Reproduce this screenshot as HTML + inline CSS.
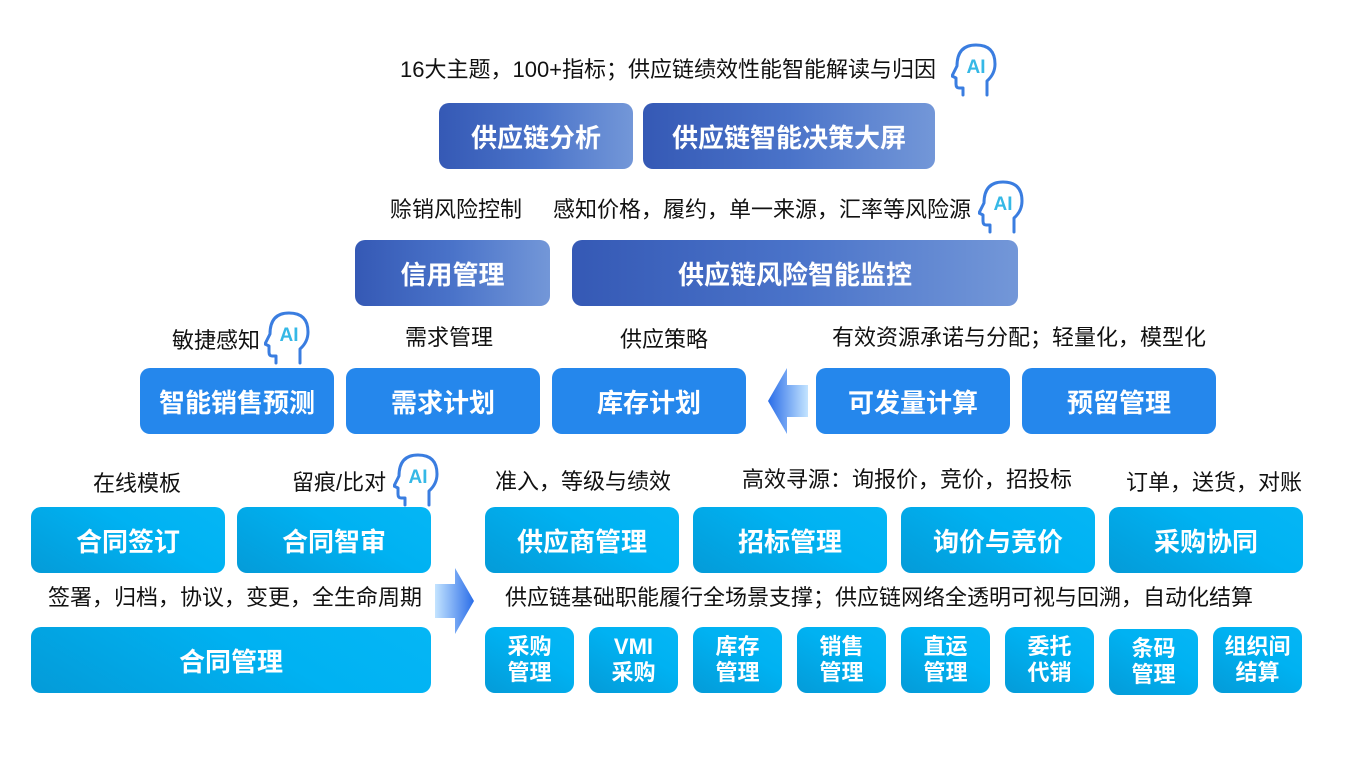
<!DOCTYPE html>
<html><head><meta charset="utf-8"><style>
body{margin:0;background:#fff;width:1367px;height:761px;position:relative;overflow:hidden;font-family:"Liberation Sans","Noto Sans CJK SC",sans-serif;}
.t{position:absolute;font-size:22px;color:#111;white-space:nowrap;line-height:26px;}
.b{position:absolute;display:flex;align-items:center;justify-content:center;color:#fff;font-weight:bold;font-size:26px;border-radius:10px;text-align:center;}
.p{background:linear-gradient(90deg,#3559b5 0%,#4a73c9 50%,#7397d8 100%);}
.m{background:#2587ec;}
.c{background:linear-gradient(30deg,#049bd8 0%,#00b2f2 60%,#05b6f5 100%);}
.s{font-size:22px;line-height:26px;width:89px;}
svg.ai{position:absolute;width:46px;height:54px;}
</style></head><body>
<svg width="0" height="0" style="position:absolute"><defs>
<symbol id="ai" viewBox="0 0 46 54"><path d="M12 52 V45 H8 Q5 45 5 41 V35 L1 33 L6 23 Q6 2 25 2 Q44 2 44 21 Q44 31 36 38 V52" fill="none" stroke="#3a7de0" stroke-width="3" stroke-linejoin="round" stroke-linecap="round"/><text x="25" y="30" text-anchor="middle" font-family="Liberation Sans" font-weight="bold" font-size="19" fill="#35b8e6">AI</text></symbol>
<linearGradient id="ga" x1="0" x2="1"><stop offset="0" stop-color="#2a6de8"/><stop offset="1" stop-color="#c4e4ff"/></linearGradient>
<linearGradient id="gb" x1="0" x2="1"><stop offset="0" stop-color="#c4e4ff"/><stop offset="1" stop-color="#2a6de8"/></linearGradient>
</defs></svg>

<div class="t" style="left:400px;top:57px">16大主题，100+指标；供应链绩效性能智能解读与归因</div>
<svg class="ai" style="left:951px;top:43px"><use href="#ai"/></svg>
<div class="b p" style="left:439px;top:103px;width:194px;height:66px">供应链分析</div>
<div class="b p" style="left:643px;top:103px;width:292px;height:66px">供应链智能决策大屏</div>

<div class="t" style="left:390px;top:197px">赊销风险控制</div>
<div class="t" style="left:553px;top:197px">感知价格，履约，单一来源，汇率等风险源</div>
<svg class="ai" style="left:978px;top:180px"><use href="#ai"/></svg>
<div class="b p" style="left:355px;top:240px;width:195px;height:66px">信用管理</div>
<div class="b p" style="left:572px;top:240px;width:446px;height:66px">供应链风险智能监控</div>

<div class="t" style="left:172px;top:328px">敏捷感知</div>
<svg class="ai" style="left:264px;top:311px"><use href="#ai"/></svg>
<div class="t" style="left:405px;top:325px">需求管理</div>
<div class="t" style="left:620px;top:327px">供应策略</div>
<div class="t" style="left:832px;top:325px">有效资源承诺与分配；轻量化，模型化</div>
<div class="b m" style="left:140px;top:368px;width:194px;height:66px">智能销售预测</div>
<div class="b m" style="left:346px;top:368px;width:194px;height:66px">需求计划</div>
<div class="b m" style="left:552px;top:368px;width:194px;height:66px">库存计划</div>
<svg style="position:absolute;left:768px;top:368px" width="40" height="66"><polygon points="0,33 19,0 19,17 40,17 40,49 19,49 19,66" fill="url(#ga)"/></svg>
<div class="b m" style="left:816px;top:368px;width:194px;height:66px">可发量计算</div>
<div class="b m" style="left:1022px;top:368px;width:194px;height:66px">预留管理</div>

<div class="t" style="left:93px;top:471px">在线模板</div>
<div class="t" style="left:292px;top:470px">留痕/比对</div>
<svg class="ai" style="left:393px;top:453px"><use href="#ai"/></svg>
<div class="t" style="left:495px;top:469px">准入，等级与绩效</div>
<div class="t" style="left:742px;top:467px">高效寻源：询报价，竞价，招投标</div>
<div class="t" style="left:1126px;top:470px">订单，送货，对账</div>
<div class="b c" style="left:31px;top:507px;width:194px;height:66px">合同签订</div>
<div class="b c" style="left:237px;top:507px;width:194px;height:66px">合同智审</div>
<div class="b c" style="left:485px;top:507px;width:194px;height:66px">供应商管理</div>
<div class="b c" style="left:693px;top:507px;width:194px;height:66px">招标管理</div>
<div class="b c" style="left:901px;top:507px;width:194px;height:66px">询价与竞价</div>
<div class="b c" style="left:1109px;top:507px;width:194px;height:66px">采购协同</div>

<div class="t" style="left:48px;top:585px">签署，归档，协议，变更，全生命周期</div>
<svg style="position:absolute;left:435px;top:568px" width="39" height="66"><polygon points="0,16 20,16 20,0 39,33 20,66 20,50 0,50" fill="url(#gb)"/></svg>
<div class="t" style="left:505px;top:585px">供应链基础职能履行全场景支撑；供应链网络全透明可视与回溯，自动化结算</div>
<div class="b c" style="left:31px;top:627px;width:400px;height:66px">合同管理</div>
<div class="b c s" style="left:485px;top:627px;height:66px">采购<br>管理</div>
<div class="b c s" style="left:589px;top:627px;height:66px">VMI<br>采购</div>
<div class="b c s" style="left:693px;top:627px;height:66px">库存<br>管理</div>
<div class="b c s" style="left:797px;top:627px;height:66px">销售<br>管理</div>
<div class="b c s" style="left:901px;top:627px;height:66px">直运<br>管理</div>
<div class="b c s" style="left:1005px;top:627px;height:66px">委托<br>代销</div>
<div class="b c s" style="left:1109px;top:629px;height:66px">条码<br>管理</div>
<div class="b c s" style="left:1213px;top:627px;height:66px">组织间<br>结算</div>
</body></html>
